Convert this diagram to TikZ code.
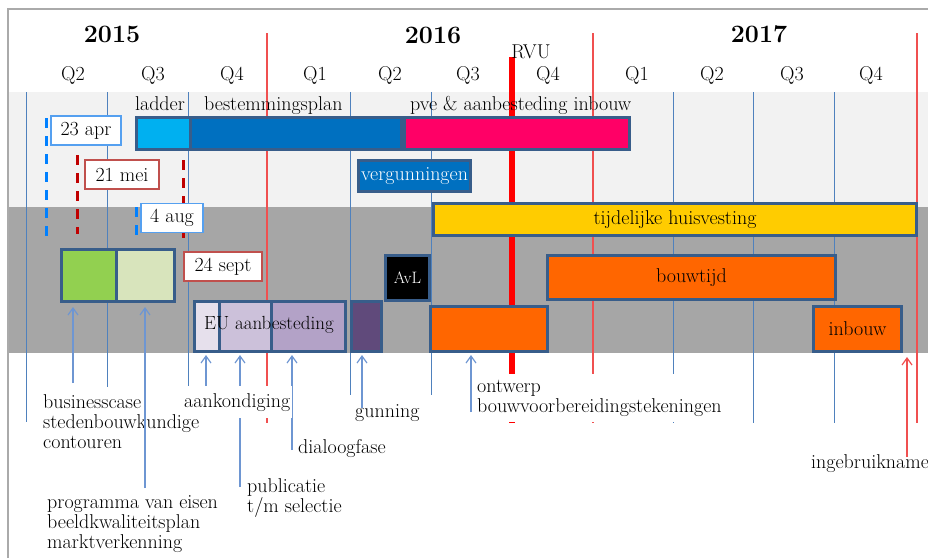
\documentclass[tikz,border=0pt]{standalone}
\usetikzlibrary{positioning,arrows.meta}

\definecolor{lichtband}{RGB}{242,242,242}
\definecolor{donkerband}{RGB}{166,166,166}
\definecolor{kader}{RGB}{170,170,170}
\definecolor{kwartblauw}{RGB}{79,129,189}
\definecolor{jaarrood}{RGB}{240,80,80}
\definecolor{randblauw}{RGB}{56,93,138}
\definecolor{pijlblauw}{RGB}{110,150,210}
\definecolor{streepblauw}{RGB}{0,128,255}
\definecolor{streeprood}{RGB}{192,0,0}
\definecolor{datumblauw}{RGB}{85,160,240}
\definecolor{datumrood}{RGB}{192,80,77}
\definecolor{ladderblauw}{RGB}{0,176,240}
\definecolor{planblauw}{RGB}{0,112,192}
\definecolor{pveroze}{RGB}{255,0,102}
\definecolor{huisgeel}{RGB}{255,204,0}
\definecolor{bcgroen}{RGB}{146,208,80}
\definecolor{pvegroen}{RGB}{216,228,188}
\definecolor{paarsA}{RGB}{230,224,236}
\definecolor{paarsB}{RGB}{204,193,218}
\definecolor{paarsC}{RGB}{179,162,199}
\definecolor{paarsD}{RGB}{96,74,123}
\definecolor{bouworanje}{RGB}{255,102,0}

\newcommand{\nlfont}{\fontsize{20}{20}\selectfont}
\newcommand{\jaarfont}{\fontsize{25}{28}\selectfont\bfseries}

\begin{document}
\begin{tikzpicture}[x=1pt, y=-1pt, font=\nlfont, inner sep=0pt]
            % 定义样式
            \tikzstyle{balk}=[draw=randblauw, line width=3pt, anchor=north west]
            \tikzstyle{datum}=[draw, fill=white, line width=1.2pt, minimum height=29pt]
            \tikzstyle{pijl}=[pijlblauw, line width=1.2pt, -{Straight Barb[length=7pt,width=10pt]}]
            \tikzstyle{onder}=[align=left, anchor=base west]
            \tikzstyle{raster}=[kwartblauw, line width=1pt]
            \tikzstyle{jaarlijn}=[jaarrood, line width=1.2pt]
            \tikzstyle{mijlpaal}=[line width=3pt, dash pattern=on 10pt off 8pt]

            \useasboundingbox (0,0) rectangle (928,558);

            % 背景带与边框
            \fill[lichtband] (8,92) rectangle (928,207);
            \fill[donkerband] (8,207) rectangle (928,353);
            \draw[kader, line width=1.5pt] (8,558) -- (8,9) -- (928,9);

            % 季度线与年份线
            \foreach \x/\y in {26/422, 107/387, 188/387, 350/395, 431/395, 673/423, 753/423, 834/423}
                \draw[raster] (\x,92) -- (\x,\y);
            \foreach \x in {267, 593, 917}
                \draw[jaarlijn] (\x,33) -- (\x,423);
            \draw[red, line width=6pt] (512,57) -- (512,423);

            % 年份, 季度
            \node[font=\jaarfont, anchor=base] (j2015) at (112,42) {2015};
            \node[font=\jaarfont, anchor=base] (j2016) at (433,43) {2016};
            \node[font=\jaarfont, anchor=base] (j2017) at (759,42) {2017};
            \foreach \x/\q [count=\i] in {73/Q2, 153/Q3, 232/Q4, 315/Q1, 390/Q2, 468/Q3, 548/Q4, 637/Q1, 712/Q2, 792/Q3, 871/Q4}
                \node[anchor=base] (q\i) at (\x,80) {\q};
            \node[anchor=base] (rvu) at (531,58) {RVU};

            % 日期标记 (虚线)
            \draw[mijlpaal, streepblauw] (46,118) -- (46,242);
            \draw[mijlpaal, streepblauw] (136,207) -- (136,242);
            \draw[mijlpaal, streeprood] (77,155) -- (77,234);
            \draw[mijlpaal, streeprood] (183,160) -- (183,238);
            \node[datum, draw=datumblauw, minimum width=70pt] (apr) at (86,130.5) {23 apr};
            \node[datum, draw=datumrood, minimum width=74pt] (mei) at (122,174.5) {21 mei};
            \node[datum, draw=datumblauw, minimum width=62pt] (aug) at (172,218) {4 aug};
            \node[datum, draw=datumrood, minimum width=78pt] (sept) at (223,266.5) {24 sept};

            % 上方条形
            \node[balk, fill=ladderblauw, minimum width=54pt, minimum height=32pt] (ladder) at (135,116) {};
            \node[balk, fill=planblauw, minimum width=211pt, minimum height=32pt, right=-3pt of ladder] (bplan) {};
            \node[balk, fill=pveroze, minimum width=225pt, minimum height=32pt, right=0pt of bplan] (pve) {};
            \node[balk, fill=planblauw, text=white, minimum width=112pt, minimum height=31pt] (verg) at (357,159) {vergunningen};
            \node[anchor=base] (t-ladder) at (160,110) {ladder};
            \node[anchor=base west] (t-bplan) at (204,110) {bestemmingsplan};
            \node[anchor=base west] (t-pve) at (410,110) {pve \& aanbesteding inbouw};

            % 灰色区域的条形
            \node[balk, fill=huisgeel, minimum width=483pt, minimum height=32pt] (huis) at (432,202) {tijdelijke huisvesting};
            \node[balk, fill=bcgroen, minimum width=55pt, minimum height=52pt] (bc) at (60,248) {};
            \node[balk, fill=pvegroen, minimum width=58pt, minimum height=52pt, right=-3pt of bc] (pvk) {};
            \node[balk, fill=paarsA, minimum width=25pt, minimum height=50pt] (euA) at (193,300) {};
            \node[balk, fill=paarsB, minimum width=52pt, minimum height=50pt, right=-3pt of euA] (euB) {};
            \node[balk, fill=paarsC, minimum width=74pt, minimum height=50pt, right=-3pt of euB] (euC) {};
            \node[anchor=base, font=\fontsize{19}{20}\selectfont] (eu) at (269,329) {EU aanbesteding};
            \node[balk, fill=paarsD, minimum width=30pt, minimum height=50pt] (gun) at (350,300) {};
            \node[balk, fill=black, text=white, minimum width=44pt, minimum height=45pt, font=\fontsize{16.5}{18}\selectfont] (avl) at (384,254) {AvL};
            \node[balk, fill=bouworanje, minimum width=117pt, minimum height=45pt] (ontw) at (429,305) {};
            \node[balk, fill=bouworanje, minimum width=288pt, minimum height=44pt] (bouw) at (546,254) {bouwtijd};
            \node[balk, fill=bouworanje, minimum width=88pt, minimum height=45pt] (inb) at (812,305) {inbouw};

            % 下方说明 (base = 最后一行)
            \node[onder] (o-bc) at (43,448) {businesscase\\stedenbouwkundige\\contouren};
            \node[onder] (o-pve) at (47,548) {programma van eisen\\beeldkwaliteitsplan\\marktverkenning};
            \node[onder] (o-publ) at (247,512) {publicatie\\t/m selectie};
            \node[onder] (o-dia) at (298,453) {dialoogfase};
            \node[onder] (o-gun) at (355,417) {gunning};
            \node[onder] (o-ingeb) at (811,468) {ingebruikname};

            % 箭头
            \coordinate (v-bc) at (73,383);
            \coordinate (v-pve) at (145,488);
            \coordinate (v-aank) at (206,387);
            \coordinate (v-publ) at (240,487);
            \coordinate (v-dia) at (292,450);
            \coordinate (v-gun) at (362,408);
            \coordinate (v-ontw) at (471,412);
            \coordinate (v-ingeb) at (907,457);
            \coordinate (k-ingeb) at (907,357);
            \draw[pijl, shorten >=4pt] (v-bc) -- (v-bc |- bc.south);
            \draw[pijl, shorten >=4pt] (v-pve) -- (v-pve |- pvk.south);
            \draw[pijl, shorten >=2pt] (v-aank) -- (v-aank |- euA.south);
            \draw[pijl, shorten >=2pt] (v-publ) -- (v-publ |- euB.south);
            \draw[pijl, shorten >=2pt] (v-dia) -- (v-dia |- euC.south);
            \draw[pijl, shorten >=2pt] (v-gun) -- (v-gun |- gun.south);
            \draw[pijl, shorten >=2pt] (v-ontw) -- (v-ontw |- ontw.south);
            \draw[pijl, jaarrood] (v-ingeb) -- (k-ingeb);

            % 白底说明 (遮住线条)
            \node[onder, fill=white, inner xsep=2pt, inner ysep=7pt] (o-aank) at (182,407) {aankondiging};
            \node[onder, fill=white, inner xsep=2pt, inner ysep=6pt] (o-ontw) at (475,412) {ontwerp\\bouwvoorbereidingstekeningen};
        \end{tikzpicture}
\end{document}
